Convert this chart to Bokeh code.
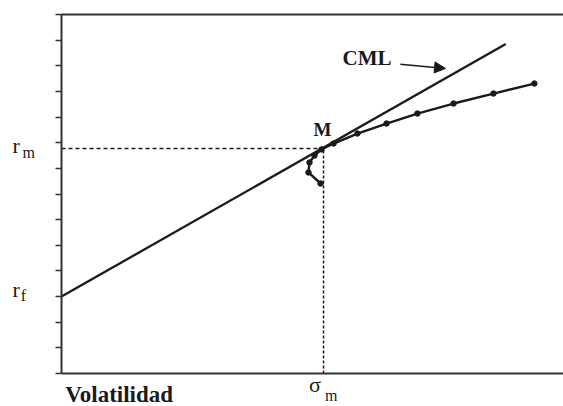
from bokeh.plotting import figure
from bokeh.models import Range1d, LinearAxis, FixedTicker, Label, Arrow, NormalHead
from bokeh.embed import file_html
from bokeh.resources import INLINE

# --- data ---
cml_sigma = [0.0, 17.7]
cml_return = [3.0, 12.85]
frontier_sigma = [10.32, 9.84, 9.88, 10.08, 10.36, 10.84, 11.79, 12.95, 14.18, 15.62, 17.21, 18.84]
frontier_return = [7.41, 7.84, 8.23, 8.50, 8.74, 8.97, 9.36, 9.75, 10.14, 10.53, 10.92, 11.31]
sigma_m = 10.44
r_m = 8.78
r_f = 3.0
y_ticks = list(range(0, 15))

INK = "#1a1a1a"
SERIF = "Liberation Serif"

p = figure(width=563, height=406, output_backend="svg", toolbar_location=None,
           x_range=Range1d(-2.43, 20.0), y_range=Range1d(-1.29, 14.55),
           x_axis_location=None, y_axis_location=None,
           min_border=0)
p.outline_line_color = None
p.grid.visible = False
p.background_fill_color = "white"
p.border_fill_color = "white"

left = LinearAxis(ticker=FixedTicker(ticks=y_ticks), fixed_location=0, bounds=(0, 14),
                  axis_line_color="#333333", axis_line_width=2,
                  major_tick_line_color="#333333", major_tick_line_width=1.5,
                  major_tick_out=6, major_tick_in=0, minor_tick_line_color=None,
                  major_label_overrides={t: "" for t in y_ticks})
p.add_layout(left, "left")
for loc, fl in (("below", 0), ("above", 14)):
    ax = LinearAxis(ticker=FixedTicker(ticks=[]), fixed_location=fl, bounds=(0, 20),
                    axis_line_color="#333333", axis_line_width=2,
                    major_tick_line_color=None, minor_tick_line_color=None)
    p.add_layout(ax, loc)

# dashed guides
p.line([0, sigma_m], [r_m, r_m], line_color=INK, line_width=1.5, line_dash="4 3")
p.line([sigma_m, sigma_m], [0, r_m], line_color=INK, line_width=1.5, line_dash="3 2")

# CML
p.line(cml_sigma, cml_return, line_color=INK, line_width=2.3)

# efficient frontier
p.line(frontier_sigma, frontier_return, line_color=INK, line_width=2.4)
p.scatter(frontier_sigma, frontier_return, size=5.5, color=INK)

# arrow to CML
p.add_layout(Arrow(end=NormalHead(size=11, fill_color=INK, line_color=INK),
                   x_start=13.5, y_start=12.06, x_end=15.3, y_end=11.9,
                   line_color=INK, line_width=1.5))

def lab(x, y, t, size, bold=False, align="left"):
    p.add_layout(Label(x=x, y=y, text=t, text_font=SERIF, text_font_size=size,
                       text_font_style="bold" if bold else "normal", text_color=INK,
                       text_align=align, text_baseline="alphabetic"))

lab(11.2, 12.32, "CML", "21px", bold=True)
lab(10.4, 9.5, "M", "19px", bold=True, align="center")
lab(-1.95, 8.89, "r", "22px")
lab(-1.55, 8.62, "m", "16px")
lab(-1.95, 3.28, "r", "22px")
lab(-1.62, 3.04, "f", "16px")
lab(0.15, -0.84, "Volatilidad", "23px", bold=True)
lab(10.1, -0.43, "σ", "22px", align="center")
lab(10.75, -0.85, "m", "16px", align="center")

open("out.html", "w").write(file_html(p, INLINE))
